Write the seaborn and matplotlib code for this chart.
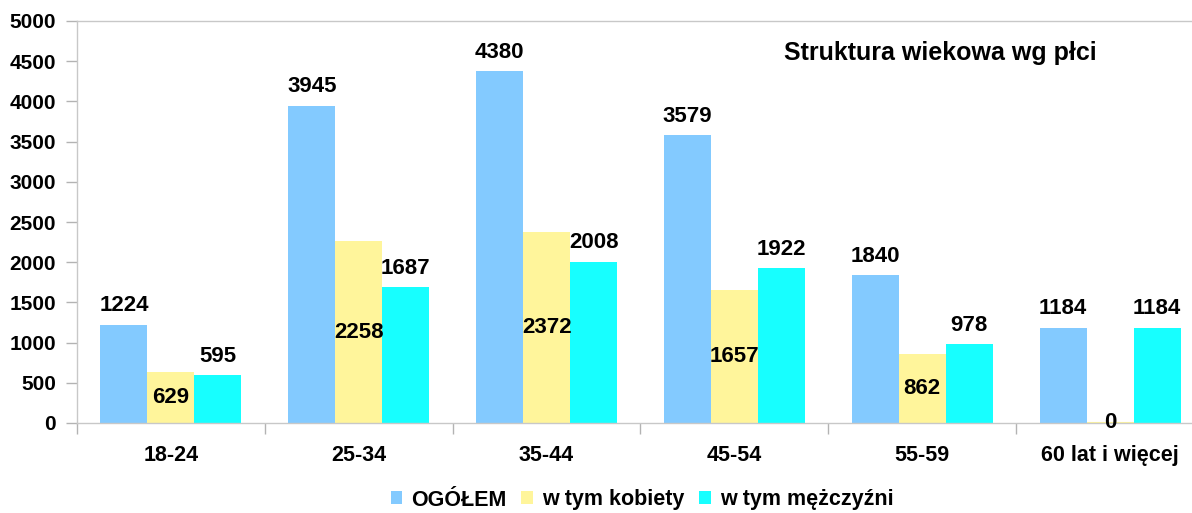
import matplotlib
matplotlib.use("Agg")
import matplotlib.pyplot as plt
from matplotlib.ticker import FixedLocator
from matplotlib.patches import Patch
import seaborn as sns
import pandas as pd

categories = ["18-24", "25-34", "35-44", "45-54", "55-59", "60 lat i więcej"]
series_names = ["OGÓŁEM", "w tym kobiety", "w tym mężczyźni"]
ogolem = [1224, 3945, 4380, 3579, 1840, 1184]
kobiety = [629, 2258, 2372, 1657, 862, 0]
mezczyzni = [595, 1687, 2008, 1922, 978, 1184]
colors = ["#83CAFF", "#FFF59B", "#17FFFF"]
y_ticks = [0, 500, 1000, 1500, 2000, 2500, 3000, 3500, 4000, 4500, 5000]
title = "Struktura wiekowa wg płci"

sns.set_style("white")
plt.rcParams["font.family"] = ["Liberation Sans", "DejaVu Sans"]
plt.rcParams["font.weight"] = "bold"
plt.rcParams["text.color"] = "black"
plt.rcParams["xtick.labelcolor"] = "black"
plt.rcParams["ytick.labelcolor"] = "black"

rows = []
for name, vals in zip(series_names, [ogolem, kobiety, mezczyzni]):
    for c, v in zip(categories, vals):
        rows.append({"kat": c, "seria": name, "wartosc": v})
df = pd.DataFrame(rows)

fig = plt.figure(figsize=(11.92, 5.13), dpi=100)
ax = fig.add_axes([77 / 1192, 1 - 423 / 513, 1 - 77 / 1192, (423 - 21) / 513])

sns.barplot(data=df, x="kat", y="wartosc", hue="seria", order=categories,
            hue_order=series_names, palette=colors, width=0.75, saturation=1,
            ax=ax, legend=False, errorbar=None, linewidth=0)

for i, cont in enumerate(ax.containers):
    if i == 1:
        for p in cont:
            if p.get_height() == 0:
                p.set_edgecolor(colors[1])
                p.set_linewidth(1.5)
        ax.bar_label(cont, label_type="center", fontsize=16, fontweight="bold", color="black")
    else:
        ax.bar_label(cont, padding=6, fontsize=16, fontweight="bold", color="black")

ax.set_ylim(0, 5000)
ax.set_xlim(-0.5, 5.5 - 12 / 188)
ax.set_yticks(y_ticks)
ax.set_xlabel("")
ax.set_ylabel("")
ax.xaxis.set_minor_locator(FixedLocator([i - 0.5 for i in range(7)]))
ax.tick_params(axis="x", which="major", length=0, pad=16, labelsize=15.5, labelcolor="black")
ax.tick_params(axis="x", which="minor", length=8, color="#b3b3b3", width=1, direction="out", bottom=True)
ax.tick_params(axis="y", length=8, color="#b3b3b3", width=1, direction="out", left=True, pad=7,
               labelsize=15, labelcolor="black")
for lab in ax.get_xticklabels() + ax.get_yticklabels():
    lab.set_fontweight("bold")

for s in ["left", "bottom", "top"]:
    ax.spines[s].set_color("#c8c8c8")
    ax.spines[s].set_linewidth(1)
ax.spines["right"].set_visible(False)

fig.text(940 / 1192, 1 - 53 / 513, title, ha="center", va="center", fontsize=18, fontweight="bold",
         color="black")

handles = [Patch(facecolor=c, edgecolor="none", label=n) for c, n in zip(colors, series_names)]
leg = fig.legend(handles=handles, loc="center", bbox_to_anchor=(642 / 1192, 1 - 500 / 513), ncol=3,
                 frameon=False, handlelength=0.55, handleheight=0.55, handletextpad=0.4,
                 columnspacing=0.7, prop={"size": 15.5, "weight": "bold"})
for t in leg.get_texts():
    t.set_color("black")

fig.savefig("out.png", dpi=100)
